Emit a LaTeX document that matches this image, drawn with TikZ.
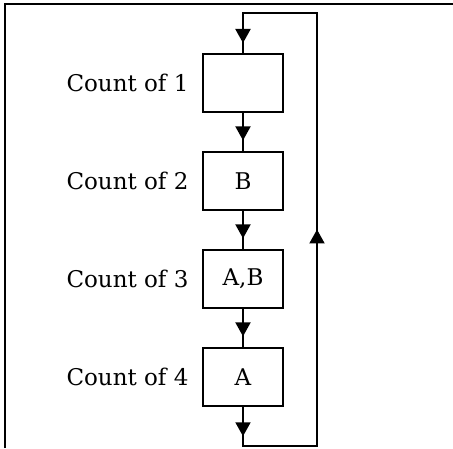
\documentclass[tikz,border=0pt]{standalone}
\usepackage{fontspec}
\setmainfont{DejaVu Serif}
\usetikzlibrary{arrows.meta, positioning, decorations.markings}
\tikzset{every node/.style={font=\fontsize{23}{27}\selectfont}}
\tikzset{
  countbox/.style={draw, line width=2pt, minimum width=80pt, minimum height=58pt, inner sep=0pt},
  flow/.style={line width=2pt, line cap=rect},
  midarrow/.style={postaction={decorate}, decoration={markings,
      mark=at position #1 with {\arrow{Triangle[length=14pt, width=15pt]}}}}
}

\begin{document}
\begin{tikzpicture}[x=1pt, y=1pt, node distance=38pt]
    \useasboundingbox (0,0) rectangle (453,448);
    % frame
    \draw[line width=2.4pt] (5,0) -- (5,444) -- (453,444);
    % count boxes
    \node[countbox] (one) at (243,365) {};
    \node[countbox, below=of one] (two) {B};
    \node[countbox, below=of two] (three) {A,B};
    \node[countbox, below=of three] (four) {A};
    \node[left=10pt of one] (lblone) {Count of 1};
    \node[left=10pt of two] (lbltwo) {Count of 2};
    \node[left=10pt of three] (lblthree) {Count of 3};
    \node[left=10pt of four] (lblfour) {Count of 4};
    % loop back
    \coordinate (looptop) at (243,435);
    \coordinate (loopbot) at (243,2);
    \coordinate (rightbot) at (317,2);
    \coordinate (righttop) at (317,435);
    \draw[flow, midarrow=0.75] (looptop) -- (one.north);
    \draw[flow, midarrow=0.72] (one.south) -- (two.north);
    \draw[flow, midarrow=0.72] (two.south) -- (three.north);
    \draw[flow, midarrow=0.72] (three.south) -- (four.north);
    \draw[flow, midarrow=0.75] (four.south) -- (loopbot);
    \draw[flow] (loopbot) -- (rightbot);
    \draw[flow, midarrow=0.5] (rightbot) -- (righttop);
    \draw[flow] (righttop) -- (looptop);
\end{tikzpicture}
\end{document}
